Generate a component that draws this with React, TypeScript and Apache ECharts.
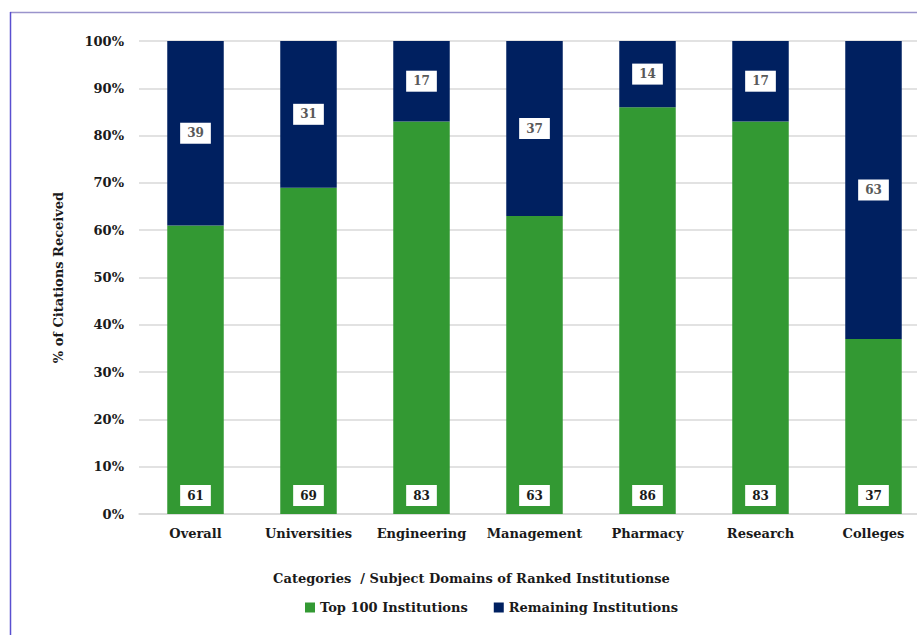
import React, { useEffect, useRef } from "react";
import * as echarts from "echarts";

const categories = ["Overall", "Universities", "Engineering", "Management", "Pharmacy", "Research", "Colleges"];
const top100 = [61, 69, 83, 63, 86, 83, 37];
const remaining = [39, 31, 17, 37, 14, 17, 63];
const seriesNames = ["Top 100 Institutions", "Remaining Institutions"];
const FONT = "DejaVu Serif";

export default function App() {
  const ref = useRef<HTMLDivElement>(null);
  useEffect(() => {
    const chart = echarts.init(ref.current!, null, { renderer: "svg" });
    const labelBox = {
      backgroundColor: "#ffffff",
      padding: [5, 7, 4, 7],
      fontFamily: FONT,
      fontWeight: "bold" as const,
      fontSize: 12,
    };
    chart.setOption({
      animation: false,
      backgroundColor: "#ffffff",
      textStyle: { fontFamily: FONT },
      graphic: [
        { type: "line", shape: { x1: 10, y1: 12.5, x2: 960, y2: 12.5 }, style: { stroke: "#9a94cc", lineWidth: 1.5 } },
        { type: "line", shape: { x1: 10.5, y1: 12, x2: 10.5, y2: 635 }, style: { stroke: "#5a4fd0", lineWidth: 1.5 } },
      ],
      grid: { left: 139, top: 41, width: 791, height: 473, containLabel: false },
      legend: {
        bottom: 16,
        left: 300,
        itemWidth: 10,
        itemHeight: 10,
        itemGap: 26,
        icon: "rect",
        textStyle: { fontFamily: FONT, fontWeight: "bold", fontSize: 13, color: "#1a1a1a" },
        data: seriesNames,
      },
      xAxis: {
        type: "category",
        data: categories,
        name: "Categories  / Subject Domains of Ranked Institutionse",
        nameLocation: "middle",
        nameGap: 58,
        nameTextStyle: { fontFamily: FONT, fontWeight: "bold", fontSize: 13, color: "#1a1a1a", padding: [0, 126, 0, 0] },
        axisLine: { show: true, lineStyle: { color: "#d9d9d9", width: 1.5 } },
        axisTick: { show: false },
        axisLabel: { interval: 0, fontFamily: FONT, fontWeight: "bold", fontSize: 13, color: "#1a1a1a", margin: 13 },
      },
      yAxis: {
        type: "value",
        min: 0,
        max: 100,
        interval: 10,
        name: "% of Citations Received",
        nameLocation: "middle",
        nameGap: 74,
        nameTextStyle: { fontFamily: FONT, fontWeight: "bold", fontSize: 13, color: "#1a1a1a" },
        axisLine: { show: false },
        axisTick: { show: false },
        axisLabel: { formatter: "{value}%", fontFamily: FONT, fontWeight: "bold", fontSize: 13, color: "#1a1a1a", margin: 15 },
        splitLine: { lineStyle: { color: "#d9d9d9", width: 1.5 } },
      },
      series: [
        {
          name: seriesNames[0],
          type: "bar",
          stack: "total",
          barWidth: "50%",
          data: top100,
          itemStyle: { color: "#339933" },
          label: { show: true, position: "insideBottom", distance: 8, color: "#1a1a1a", ...labelBox },
        },
        {
          name: seriesNames[1],
          type: "bar",
          stack: "total",
          barWidth: "50%",
          data: remaining,
          itemStyle: { color: "#002060" },
          label: { show: true, position: "inside", color: "#595959", ...labelBox },
        },
      ],
    });
    return () => chart.dispose();
  }, []);
  return (
    <div style={{ position: "absolute", left: 0, top: 0, width: 917, height: 635, overflow: "hidden" }}>
      <div ref={ref} style={{ width: 960, height: 635 }} />
    </div>
  );
}
